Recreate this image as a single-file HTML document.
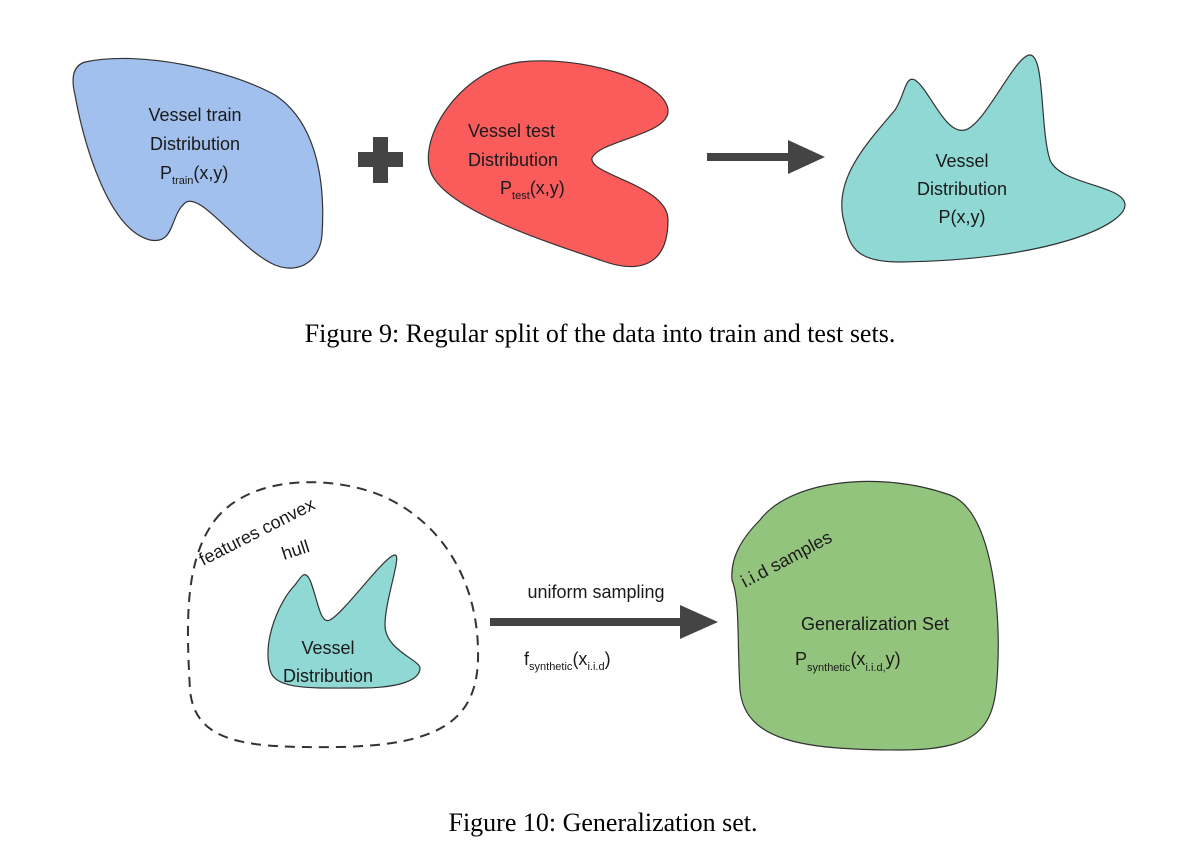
<!DOCTYPE html>
<html><head><style>
html,body{margin:0;padding:0;background:#fff;}
svg{display:block;}
.t{font-family:"Liberation Sans",sans-serif;font-size:18px;fill:#1a1a1a;}
.s{font-size:11px;}
.c{font-family:"Liberation Serif",serif;font-size:26px;fill:#000;}
</style></head><body>
<svg width="1182" height="848" viewBox="0 0 1182 848" xmlns="http://www.w3.org/2000/svg">
<path d="M85,62 C140,50 230,70 275,95 C320,125 325,190 322,235 C320,260 300,275 275,265 C240,250 200,190 185,203 C170,215 175,245 150,240 C110,230 85,150 75,95 C70,75 75,65 85,62 Z" fill="#a2c0ee" stroke="#333" stroke-width="1.2"/>
<text class="t" x="195" y="121" text-anchor="middle">Vessel train</text>
<text class="t" x="195" y="150" text-anchor="middle">Distribution</text>
<text class="t" x="160" y="179">P<tspan class="s" dy="5">train</tspan><tspan dy="-5">(x,y)</tspan></text>
<rect x="373" y="137" width="15" height="46" fill="#444"/>
<rect x="358" y="152" width="45" height="15" fill="#444"/>
<path d="M520,62 C580,55 665,80 668,110 C670,135 600,140 592,158 C588,175 668,185 668,220 C668,265 640,275 600,260 C540,240 450,210 432,175 C415,140 460,70 520,62 Z" fill="#fa5c5c" stroke="#333" stroke-width="1.2"/>
<text class="t" x="468" y="137">Vessel test</text>
<text class="t" x="468" y="166">Distribution</text>
<text class="t" x="500" y="194">P<tspan class="s" dy="5">test</tspan><tspan dy="-5">(x,y)</tspan></text>
<rect x="707" y="153" width="85" height="8" fill="#444"/>
<polygon points="788,140 825,157 788,174" fill="#444"/>
<path d="M845,225 C830,180 870,140 895,110 C905,95 905,75 915,80 C930,90 945,135 965,130 C985,125 1015,55 1030,55 C1045,55 1040,130 1050,160 C1060,185 1125,185 1125,205 C1125,225 1050,260 900,262 C860,262 850,250 845,225 Z" fill="#8fd8d3" stroke="#333" stroke-width="1.2"/>
<text class="t" x="962" y="167" text-anchor="middle">Vessel</text>
<text class="t" x="962" y="195" text-anchor="middle">Distribution</text>
<text class="t" x="962" y="223" text-anchor="middle">P(x,y)</text>
<text class="c" x="600" y="342" text-anchor="middle">Figure 9: Regular split of the data into train and test sets.</text>

<path d="M215,520 C250,475 330,475 380,495 C440,520 480,580 478,660 C476,720 440,745 340,747 C250,748 195,745 190,690 C186,620 185,560 215,520 Z" fill="none" stroke="#333" stroke-width="2" stroke-dasharray="10,7"/>
<text class="t" transform="translate(203,566) rotate(-27)">features convex</text>
<text class="t" transform="translate(284,560) rotate(-18)">hull</text>
<path d="M270,670 C262,640 280,600 295,585 C302,575 305,570 310,580 C318,600 320,625 330,620 C345,612 385,555 395,555 C402,555 385,600 385,625 C385,650 420,660 420,668 C420,680 400,688 360,688 C310,688 275,690 270,670 Z" fill="#8fd8d3" stroke="#333" stroke-width="1.2"/>
<text class="t" x="328" y="654" text-anchor="middle">Vessel</text>
<text class="t" x="328" y="682" text-anchor="middle">Distribution</text>
<text class="t" x="596" y="598" text-anchor="middle">uniform sampling</text>
<rect x="490" y="618" width="195" height="8" fill="#444"/>
<polygon points="680,605 718,622 680,639" fill="#444"/>
<text class="t" x="524" y="665">f<tspan class="s" dy="5">synthetic</tspan><tspan dy="-5">(x</tspan><tspan class="s" dy="5">i.i.d</tspan><tspan dy="-5">)</tspan></text>
<path d="M760,520 C790,480 880,470 950,495 C990,510 1000,600 998,660 C996,720 990,750 900,750 C800,750 745,740 740,690 C737,640 740,600 732,580 C730,555 745,535 760,520 Z" fill="#93c47d" stroke="#333" stroke-width="1.2"/>
<text class="t" transform="translate(745,588) rotate(-28)">i.i.d samples</text>
<text class="t" x="875" y="630" text-anchor="middle">Generalization Set</text>
<text class="t" x="795" y="665">P<tspan class="s" dy="6">synthetic</tspan><tspan dy="-6">(x</tspan><tspan class="s" dy="6">i.i.d,</tspan><tspan dy="-6">y)</tspan></text>
<text class="c" x="603" y="831" text-anchor="middle">Figure 10: Generalization set.</text>
</svg>
</body></html>
